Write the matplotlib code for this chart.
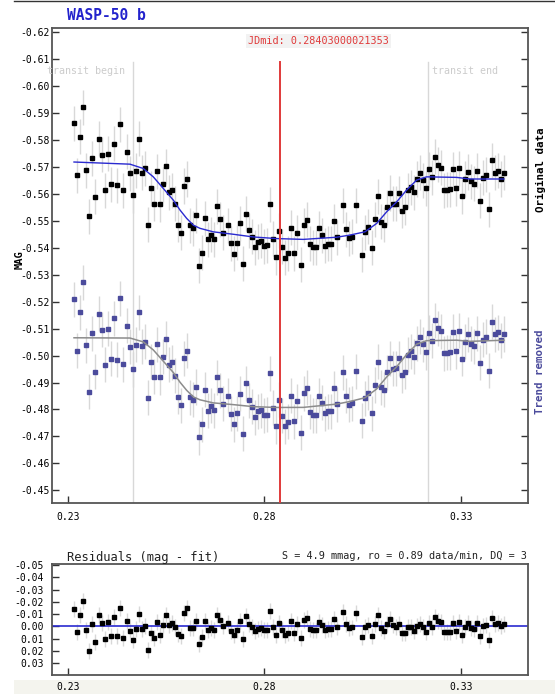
import matplotlib
matplotlib.use("Agg")
import matplotlib.pyplot as plt
import numpy as np
from matplotlib.lines import Line2D
from matplotlib.patches import Rectangle

jd = [0.23153, 0.23229, 0.23305, 0.23382, 0.23458, 0.23534, 0.23611, 0.23687, 0.23796, 0.23873,
      0.23949, 0.24025, 0.24102, 0.24178, 0.24254, 0.24331, 0.24407, 0.24494, 0.24570, 0.24646,
      0.24723, 0.24799, 0.24875, 0.24952, 0.25028, 0.25104, 0.25181, 0.25257, 0.25341, 0.25417,
      0.25494, 0.25570, 0.25646, 0.25723, 0.25799, 0.25875, 0.25952, 0.26028, 0.26104, 0.26188,
      0.26265, 0.26341, 0.26417, 0.26494, 0.26570, 0.26646, 0.26723, 0.26799, 0.26875, 0.26952,
      0.27064, 0.27140, 0.27216, 0.27293, 0.27369, 0.27445, 0.27522, 0.27598, 0.27674, 0.27751,
      0.27827, 0.27903, 0.27980, 0.28056, 0.28140, 0.28216, 0.28293, 0.28369, 0.28453, 0.28529,
      0.28606, 0.28682, 0.28758, 0.28835, 0.28921, 0.28997, 0.29074, 0.29150, 0.29226, 0.29303,
      0.29379, 0.29455, 0.29532, 0.29608, 0.29684, 0.29768, 0.29845, 0.29997, 0.30074, 0.30150,
      0.30226, 0.30336, 0.30489, 0.30565, 0.30641, 0.30728, 0.30804, 0.30880, 0.30957, 0.31033,
      0.31109, 0.31186, 0.31262, 0.31338, 0.31415, 0.31491, 0.31567, 0.31644, 0.31720, 0.31796,
      0.31873, 0.31949, 0.32025, 0.32102, 0.32178, 0.32254, 0.32331, 0.32407, 0.32483, 0.32560,
      0.32636, 0.32712, 0.32789, 0.32865, 0.32941, 0.33025, 0.33102, 0.33178, 0.33254, 0.33331,
      0.33407, 0.33483, 0.33560, 0.33636, 0.33712, 0.33789, 0.33865, 0.33941, 0.34018, 0.34094]
mag = [-0.5861, -0.5669, -0.5812, -0.5922, -0.5688, -0.5516, -0.5732, -0.5590, -0.5804, -0.5745,
       -0.5614, -0.5748, -0.5636, -0.5786, -0.5631, -0.5858, -0.5614, -0.5756, -0.5677, -0.5594,
       -0.5685, -0.5804, -0.5678, -0.5695, -0.5486, -0.5620, -0.5564, -0.5684, -0.5561, -0.5636,
       -0.5703, -0.5606, -0.5614, -0.5564, -0.5486, -0.5455, -0.5629, -0.5655, -0.5483, -0.5473,
       -0.5520, -0.5333, -0.5381, -0.5509, -0.5431, -0.5449, -0.5431, -0.5553, -0.5505, -0.5455,
       -0.5483, -0.5416, -0.5377, -0.5418, -0.5490, -0.5340, -0.5527, -0.5464, -0.5440, -0.5401,
       -0.5422, -0.5426, -0.5406, -0.5409, -0.5561, -0.5433, -0.5364, -0.5463, -0.5403, -0.5363,
       -0.5380, -0.5475, -0.5380, -0.5455, -0.5337, -0.5483, -0.5504, -0.5414, -0.5401, -0.5401,
       -0.5473, -0.5446, -0.5407, -0.5414, -0.5414, -0.5498, -0.5438, -0.5557, -0.5468, -0.5435,
       -0.5440, -0.5558, -0.5374, -0.5457, -0.5478, -0.5400, -0.5505, -0.5591, -0.5496, -0.5486,
       -0.5550, -0.5603, -0.5564, -0.5564, -0.5602, -0.5538, -0.5550, -0.5614, -0.5625, -0.5605,
       -0.5655, -0.5678, -0.5651, -0.5620, -0.5692, -0.5662, -0.5737, -0.5708, -0.5696, -0.5614,
       -0.5616, -0.5617, -0.5692, -0.5620, -0.5695, -0.5591, -0.5655, -0.5681, -0.5646, -0.5637,
       -0.5685, -0.5574, -0.5659, -0.5670, -0.5543, -0.5725, -0.5678, -0.5685, -0.5655, -0.5678]
mag_err = 0.0065

# transit fit on the original data
fit_jd = [0.23153, 0.24578, 0.24916, 0.25171, 0.25425, 0.25679, 0.25850, 0.26020, 0.26188,
          0.26359, 0.26697, 0.27206, 0.27715, 0.28310, 0.28987, 0.29837, 0.30176, 0.30557,
          0.30855, 0.31109, 0.31364, 0.31618, 0.31873, 0.32127, 0.32891, 0.33229, 0.34094]
fit_mag = [-0.5718, -0.5710, -0.5694, -0.5663, -0.5620, -0.5577, -0.5540, -0.5509, -0.5484,
           -0.5472, -0.5459, -0.5450, -0.5440, -0.5434, -0.5431, -0.5439, -0.5447, -0.5459,
           -0.5490, -0.5533, -0.5570, -0.5614, -0.5651, -0.5663, -0.5661, -0.5655, -0.5655]

# linear trend offset between the two panels (start / end of run)
trend_jd = [0.23153, 0.34094]
trend_off = [0.0652, 0.0598]

jd_mid = 0.28403000021353
transit_begin = 0.24662
transit_end = 0.32153

jd = np.array(jd)
mag = np.array(mag)
fit_jd = np.array(fit_jd)
fit_mag = np.array(fit_mag)

off = np.interp(jd, trend_jd, trend_off)
fit_off = np.interp(fit_jd, trend_jd, trend_off)
detr = mag + off
detr_fit = fit_mag + fit_off
resid = mag - np.interp(jd, fit_jd, fit_mag)

mono = "DejaVu Sans Mono"
plt.rcParams["font.family"] = mono

fig = plt.figure(figsize=(5.55, 6.94), dpi=100)
fig.add_artist(Line2D([0.025, 1.0], [0.9985, 0.9985], color="#333333", lw=1))
fig.add_artist(Rectangle((0.025, 0.0), 0.975, 0.02, color="#f4f4ee", lw=0, zorder=0))

ax = fig.add_axes([0.0942, 0.2748, 0.8566, 0.6844])
ax.errorbar(jd, mag, yerr=mag_err, fmt="none", ecolor="#d8d8d8", elinewidth=1, zorder=1)
ax.plot(jd, mag, "s", color="black", ms=2.7, zorder=3)
ax.plot(fit_jd, fit_mag, color="#2a2ad0", lw=1, zorder=4)

ax.errorbar(jd, detr, yerr=mag_err, fmt="none", ecolor="#d8d8d8", elinewidth=1, zorder=1)
ax.plot(jd, detr, "s", color="#4b4b9c", ms=2.7, zorder=3)
ax.plot(fit_jd, detr_fit, color="#8c8c8c", lw=1.1, zorder=4)

line_top = -0.6089
ax.plot([transit_begin, transit_begin], [line_top, -0.44], color="#d8d8d8", lw=1, zorder=0)
ax.plot([transit_end, transit_end], [line_top, -0.44], color="#d8d8d8", lw=1, zorder=0)
ax.plot([jd_mid, jd_mid], [line_top, -0.44], color="#e03a3a", lw=1.4, zorder=5)

ax.set_xlim(0.2260, 0.3470)
ax.set_ylim(-0.4452, -0.6214)
yt = np.round(np.arange(-0.62, -0.449, 0.01), 2)
ax.set_yticks(yt)
ax.set_yticklabels([f"{v:.2f}" for v in yt])
ax.set_xticks([0.23, 0.28, 0.33])
ax.set_xticklabels(["0.23", "0.28", "0.33"])
ax.tick_params(direction="in", length=5, width=1, right=True, labelsize=7, pad=6,
               colors="#333333", labelcolor="black")
ax.tick_params(axis="y", pad=2)
for s in ax.spines.values():
    s.set_color("#555555")
    s.set_linewidth(1.3)

fig.text(67 / 555, 1 - 16 / 694, "WASP-50 b", color="#2222cc", fontsize=10.5,
         fontweight="bold", va="center", ha="left")
fig.text(248 / 555, 1 - 41 / 694, "JDmid: 0.28403000021353", color="#e03a3a", fontsize=7.3,
         va="center", ha="left",
         bbox=dict(facecolor="#f2f2f2", edgecolor="none", pad=1.5))
fig.text(47 / 555, 1 - 71 / 694, "transit begin", color="#cccccc", fontsize=7.2,
         va="center", ha="left")
fig.text(432 / 555, 1 - 71 / 694, "transit end", color="#cccccc", fontsize=7.2,
         va="center", ha="left")
fig.text(541 / 555, 1 - 170 / 694, "Original data", color="black", fontsize=7.8,
         fontweight="bold", rotation=90, va="center", ha="center")
fig.text(540 / 555, 1 - 372 / 694, "Trend removed", color="#4b4b9c", fontsize=7.8,
         fontweight="bold", rotation=90, va="center", ha="center")
fig.text(20 / 555, 1 - 260 / 694, "MAG", color="black", fontsize=7.5,
         fontweight="bold", rotation=90, va="center", ha="center")

ax2 = fig.add_axes([0.0942, 0.0274, 0.8566, 0.1599])
ax2.axhline(0, color="#2a2ad0", lw=1.2, zorder=2)
ax2.errorbar(jd, resid, yerr=mag_err, fmt="none", ecolor="#d8d8d8", elinewidth=1, zorder=1)
ax2.plot(jd, resid, "s", color="black", ms=2.2, zorder=3)
ax2.set_xlim(0.2260, 0.3470)
ax2.set_ylim(0.0395, -0.0508)
rt = [-0.05, -0.04, -0.03, -0.02, -0.01, 0.0, 0.01, 0.02, 0.03]
ax2.set_yticks(rt)
ax2.set_yticklabels(["-0.05", "-0.04", "-0.03", "-0.02", "-0.01", "0.00", "0.01", "0.02", "0.03"])
ax2.set_xticks([0.23, 0.28, 0.33])
ax2.set_xticklabels(["0.23", "0.28", "0.33"])
ax2.tick_params(direction="in", length=5, width=1, labelsize=7, pad=5,
                colors="#333333", labelcolor="black")
ax2.tick_params(axis="y", pad=6)
for s in ax2.spines.values():
    s.set_color("#555555")
    s.set_linewidth(1.3)

fig.text(67 / 555, 1 - 557 / 694, "Residuals (mag - fit)", color="#222222", fontsize=8.7,
         va="center", ha="left")
fig.text(527 / 555, 1 - 556 / 694, "S = 4.9 mmag, ro = 0.89 data/min, DQ = 3",
         color="#222222", fontsize=7.3, va="center", ha="right")

fig.savefig("out.png", dpi=100)
